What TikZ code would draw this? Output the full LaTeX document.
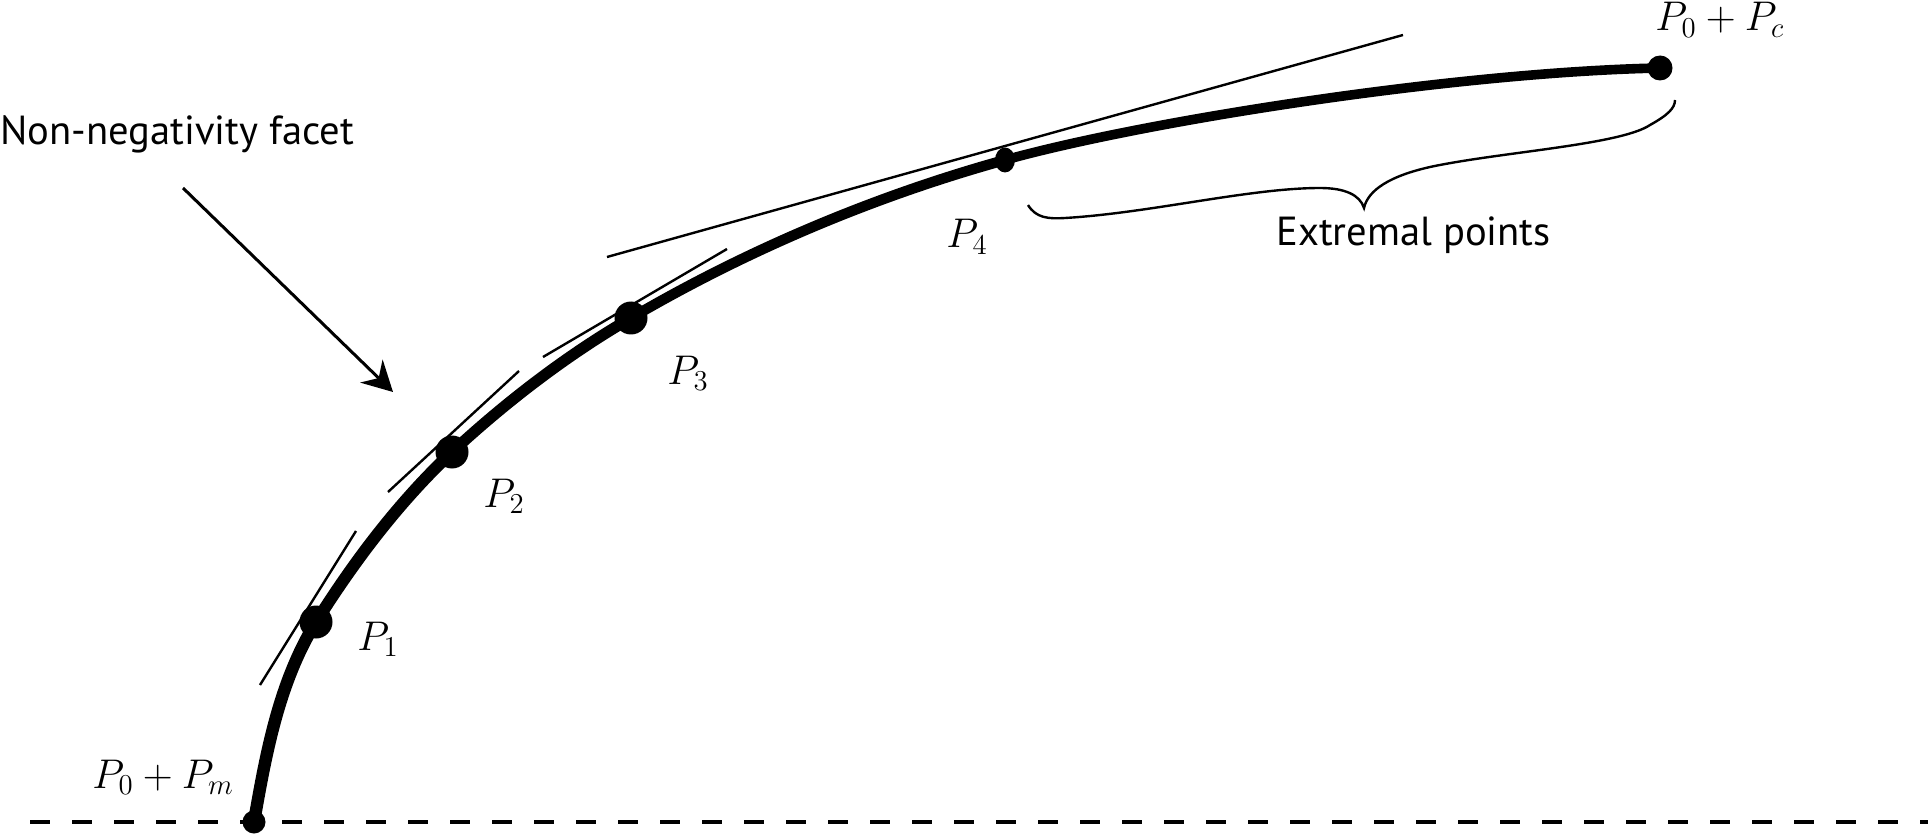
\documentclass[tikz,border=0pt]{standalone}
\usepackage{fontspec}
\newfontfamily\labelfont{PT Sans}
\usetikzlibrary{arrows.meta,shapes.geometric}
\begin{document}
\begin{tikzpicture}[x=0.5pt,y=-0.5pt,
  curvestyle/.style={line width=#1, line cap=round, line join=round},
  tangentline/.style={line width=1.2pt},
  bigdot/.style={circle, fill=black, inner sep=0pt, minimum size=16.5pt},
  smalldot/.style={circle, fill=black, inner sep=0pt, minimum size=11.5pt},
  txtlabel/.style={font=\labelfont\fontsize{20.3}{24}\selectfont, inner sep=0pt},
  mathlabel/.style={font=\fontsize{20}{24}\selectfont, inner sep=0pt},
  bracestyle/.style={line width=1.2pt},
]
\useasboundingbox (0,0) rectangle (1928,834);

% baseline (dashed)
\coordinate (b0) at (30,822);
\coordinate (b1) at (1928,822);
\draw[line width=2pt, dash pattern=on 10pt off 11pt] (b0) -- (b1);

% curve anchor coordinates
\coordinate (c0) at (254,822);
\coordinate (c1) at (316,622);
\coordinate (c2) at (452,452);
\coordinate (c3) at (631,318);
\coordinate (c4) at (1005,160);
\coordinate (c5) at (1660,68);

% main curve (smooth Bezier pieces with matching tangents)
\draw[curvestyle=6.2pt] (c0) .. controls (266,753) and (279,682) .. (c1);
\draw[curvestyle=6.0pt] (c1) .. controls (355,560) and (399,502) .. (c2);
\draw[curvestyle=5.6pt] (c2) .. controls (506,402) and (567,355) .. (c3);
\draw[curvestyle=5.2pt] (c3) .. controls (747,250) and (875,196) .. (c4);
\draw[curvestyle=4.8pt] (c4) .. controls (1149,120) and (1460,72) .. (c5);

% tangent lines
\coordinate (t1a) at (260,685); \coordinate (t1b) at (356,531);
\coordinate (t2a) at (388,492); \coordinate (t2b) at (519,371);
\coordinate (t3a) at (543,357); \coordinate (t3b) at (727,249);
\coordinate (t4a) at (607,257); \coordinate (t4b) at (1403,35);
\draw[tangentline] (t1a) -- (t1b);
\draw[tangentline] (t2a) -- (t2b);
\draw[tangentline] (t3a) -- (t3b);
\draw[tangentline] (t4a) -- (t4b);

% points
\node[smalldot] (pm) at (c0) {};
\node[bigdot] (p1) at (c1) {};
\node[bigdot] (p2) at (c2) {};
\node[bigdot] (p3) at (c3) {};
\node[ellipse, fill=black, inner sep=0pt, minimum width=10pt, minimum height=12.5pt] (p4) at (c4) {};
\node[circle, fill=black, inner sep=0pt, minimum size=12.5pt] (pc) at (c5) {};

% labels
\node[mathlabel, anchor=base west] (lpm) at (92,788) {$P_0+P_m$};
\node[mathlabel, anchor=base west] (lp1) at (357,650) {$P_1$};
\node[mathlabel, anchor=base west] (lp2) at (483,507) {$P_2$};
\node[mathlabel, anchor=base west] (lp3) at (667,384) {$P_3$};
\node[mathlabel, anchor=base west] (lp4) at (946,248) {$P_4$};
\node[mathlabel, anchor=base west] (lpc) at (1655,31) {$P_0+P_c$};

\node[txtlabel, anchor=base west] (facet) at (0,145) {Non-negativity facet};
\node[txtlabel, anchor=base west] (extr) at (1276,246) {Extremal points};

% arrow
\coordinate (arrS) at (183,188);
\coordinate (arrE) at (393,392);
\draw[line width=1.5pt, -{Stealth[length=15pt,width=16pt,inset=5pt]}] (arrS) -- (arrE);

% brace
\coordinate (brL) at (1028,205);
\coordinate (brT) at (1364,208);
\coordinate (brR) at (1675,100);
\draw[bracestyle] (brL) .. controls (1036,218) and (1048,219) .. (1065,218)
  .. controls (1150,213) and (1250,188) .. (1320,188)
  .. controls (1345,188) and (1360,195) .. (brT)
  .. controls (1368,190) and (1390,176) .. (1430,167)
  .. controls (1500,152) and (1620,145) .. (1650,125)
  .. controls (1668,115) and (1675,108) .. (brR);
\end{tikzpicture}
\end{document}
